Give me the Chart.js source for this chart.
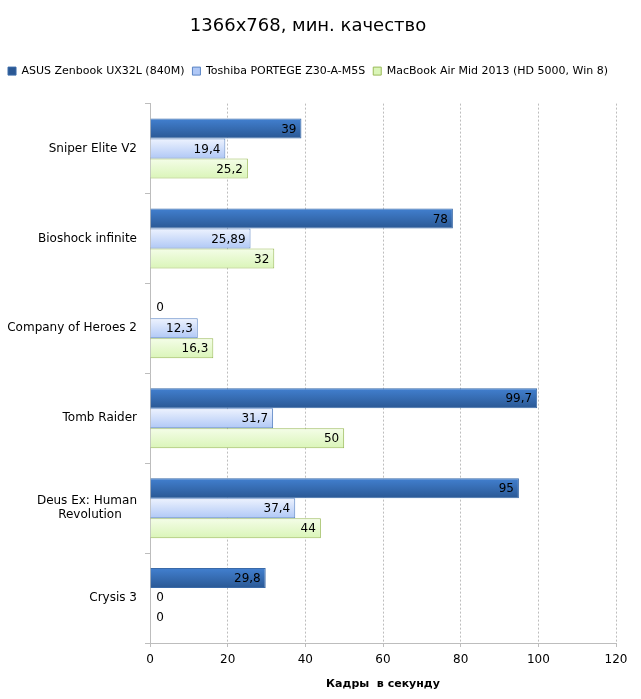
<!DOCTYPE html>
<html>
<head>
<meta charset="utf-8">
<script src="https://cdn.jsdelivr.net/npm/chart.js@4.4.1/dist/chart.umd.min.js"></script>
<style>
  html, body { margin: 0; padding: 0; background: #fff; }
  #wrap { width: 641px; height: 699px; }
</style>
</head>
<body>
<div id="wrap"><canvas id="fpsChart"></canvas></div>
<script>
  // chart data
  const games = ['Sniper Elite V2', 'Bioshock infinite', 'Company of Heroes 2', 'Tomb Raider', ['Deus Ex: Human', 'Revolution    '], 'Crysis 3'];
  const asusFps = [39, 78, 0, 99.7, 95, 29.8];
  const toshibaFps = [19.4, 25.89, 12.3, 31.7, 37.4, 0];
  const macbookFps = [25.2, 32, 16.3, 50, 44, 0];
  const xTicks = [0, 20, 40, 60, 80, 100, 120];

  const FONT = 'DejaVu Sans';

  // extra gap under the legend
  const legendGap = {
    id: 'legendGap',
    beforeInit(chart) {
      const fit = chart.legend.fit;
      chart.legend.fit = function() {
        fit.bind(chart.legend)();
        this.height += 17;
      };
    }
  };

  // per-bar vertical gradients, like the Excel fills
  const gradientFill = {
    id: 'gradientFill',
    beforeDatasetsDraw(chart) {
      const ctx = chart.ctx;
      chart.data.datasets.forEach((ds, i) => {
        const meta = chart.getDatasetMeta(i);
        meta.data.forEach(bar => {
          const top = bar.y - bar.height / 2;
          const bottom = bar.y + bar.height / 2;
          const g = ctx.createLinearGradient(0, top, 0, bottom);
          g.addColorStop(0, ds.gradTop);
          g.addColorStop(1, ds.gradBottom);
          bar.options.backgroundColor = g;
        });
      });
    }
  };

  // value labels at the inner end of each bar
  const valueLabels = {
    id: 'valueLabels',
    afterDatasetsDraw(chart) {
      const ctx = chart.ctx;
      ctx.save();
      ctx.font = '12px ' + FONT;
      ctx.fillStyle = '#000';
      ctx.textBaseline = 'middle';
      chart.data.datasets.forEach((ds, i) => {
        const meta = chart.getDatasetMeta(i);
        meta.data.forEach((bar, j) => {
          const v = ds.data[j];
          const txt = String(v).replace('.', ',');
          if (v === 0) {
            ctx.textAlign = 'center';
            ctx.fillText(txt, bar.base + 10, bar.y);
          } else {
            ctx.textAlign = 'right';
            ctx.fillText(txt, bar.x - 5, bar.y + 1);
          }
        });
      });
      ctx.restore();
    }
  };

  new Chart(document.getElementById('fpsChart').getContext('2d'), {
    type: 'bar',
    data: {
      labels: games,
      datasets: [
        {
          label: 'ASUS Zenbook UX32L (840M)',
          data: asusFps,
          backgroundColor: () => '#3a70b8',
          gradTop: '#4280d0', gradBottom: '#2a5894',
          borderColor: '#3a6aa8',
          borderWidth: 1
        },
        {
          label: 'Toshiba PORTEGE Z30-A-M5S',
          data: toshibaFps,
          backgroundColor: () => '#c8d8f8',
          gradTop: '#eef3fe', gradBottom: '#b0c8f6',
          borderColor: '#5a84c4',
          borderWidth: 1
        },
        {
          label: 'MacBook Air Mid 2013 (HD 5000, Win 8)',
          data: macbookFps,
          backgroundColor: () => '#e6f8d0',
          gradTop: '#f4fde8', gradBottom: '#daf5b8',
          borderColor: '#9bbb59',
          borderWidth: 1
        }
      ]
    },
    options: {
      indexAxis: 'y',
      responsive: true,
      maintainAspectRatio: false,
      animation: false,
      devicePixelRatio: 1,
      categoryPercentage: 0.667,
      barPercentage: 1,
      layout: { padding: { left: 0, right: 25, top: 0, bottom: 4 } },
      plugins: {
        title: {
          display: true,
          text: '1366x768, мин. качество',
          color: '#000',
          font: { family: FONT, size: 18, weight: 'normal' },
          padding: { top: 16, bottom: 20 }
        },
        legend: {
          position: 'top',
          align: 'center',
          labels: {
            color: '#000',
            font: { family: FONT, size: 11 },
            boxWidth: 8,
            boxHeight: 8,
            padding: 8,
            generateLabels(chart) {
              return chart.data.datasets.map((ds, i) => ({
                text: ds.label,
                fillStyle: ds.gradBottom,
                strokeStyle: ds.borderColor,
                lineWidth: 1,
                datasetIndex: i
              }));
            }
          }
        },
        tooltip: { enabled: false }
      },
      scales: {
        x: {
          min: 0,
          max: 120,
          afterBuildTicks(axis) { axis.ticks = xTicks.map(v => ({ value: v })); },
          afterFit(axis) { axis.height = 52; },
          grid: {
            color: '#bdbdbd',
            tickColor: '#bdbdbd',
            tickLength: 4,
            drawTicks: true
          },
          border: { color: '#bdbdbd', dash: [2, 2] },
          ticks: { color: '#000', font: { family: FONT, size: 12 }, padding: 6 },
          title: {
            display: true,
            text: 'Кадры  в секунду',
            color: '#000',
            font: { family: FONT, size: 11, weight: 'bold' },
            padding: { top: 4 }
          }
        },
        y: {
          afterFit(axis) { axis.width = 150; },
          grid: {
            drawOnChartArea: false,
            color: '#bdbdbd',
            tickLength: 5,
            offset: true
          },
          border: { color: '#bdbdbd' },
          ticks: { color: '#000', font: { family: FONT, size: 12 }, padding: 8 }
        }
      }
    },
    plugins: [legendGap, gradientFill, valueLabels]
  });
</script>
</body>
</html>
